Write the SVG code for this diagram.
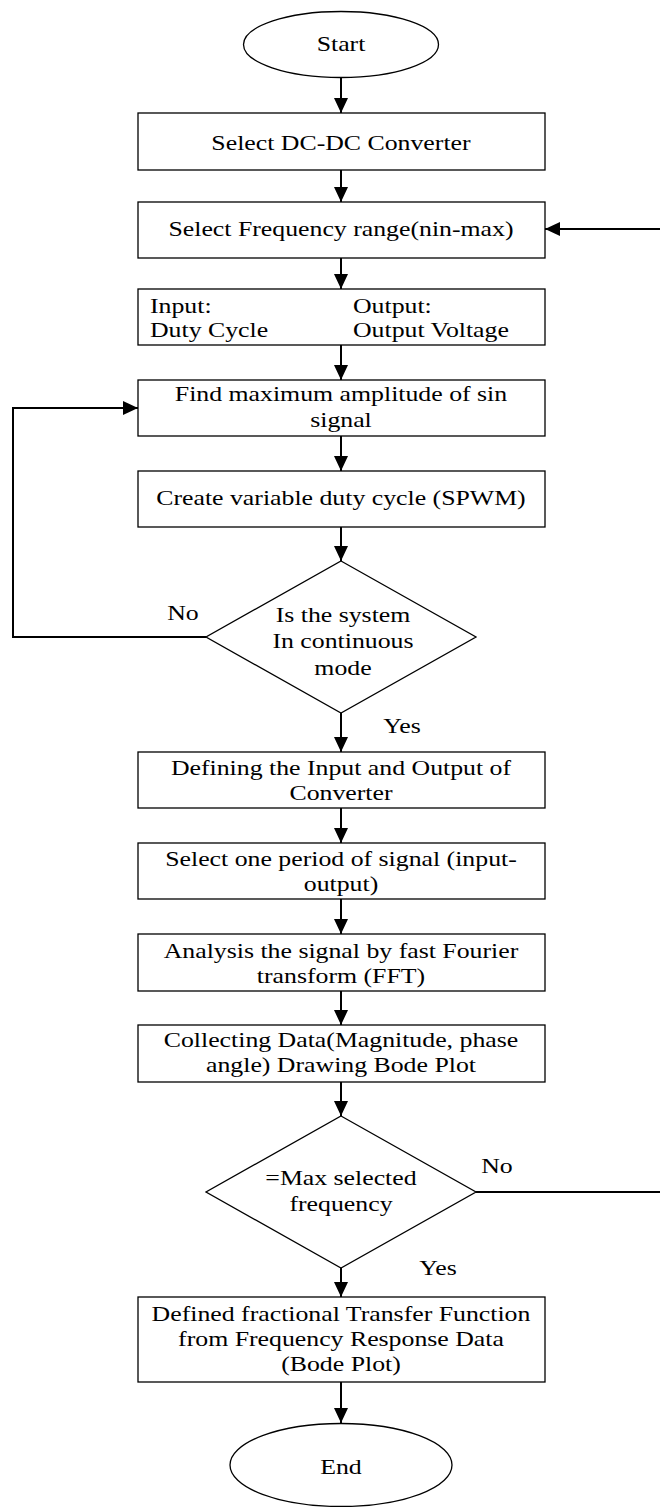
<svg xmlns="http://www.w3.org/2000/svg" width="660" height="1507" viewBox="0 0 660 1507">
<style>
  .shape { fill: #ffffff; stroke: #000000; stroke-width: 1.3; }
  .conn { fill: none; stroke: #000000; stroke-width: 2; }
  text { font-family: "Liberation Serif", "Times New Roman", serif; font-size: 21.5px; fill: #000000; }
  .c { text-anchor: middle; }
  .l { text-anchor: start; }
</style>
<defs>
  <marker id="arrow" markerUnits="userSpaceOnUse" markerWidth="16" markerHeight="14" refX="15" refY="7" orient="auto">
    <path d="M0,0 L15,7 L0,14 Z" fill="#000000"/>
  </marker>
</defs>
<rect width="660" height="1507" fill="#ffffff"/>

<g id="connectors">
  <line class="conn" x1="341" y1="77" x2="341" y2="113" marker-end="url(#arrow)"/>
  <line class="conn" x1="341" y1="170" x2="341" y2="202" marker-end="url(#arrow)"/>
  <line class="conn" x1="341" y1="258" x2="341" y2="289" marker-end="url(#arrow)"/>
  <line class="conn" x1="341" y1="345" x2="341" y2="380" marker-end="url(#arrow)"/>
  <line class="conn" x1="341" y1="436" x2="341" y2="471" marker-end="url(#arrow)"/>
  <line class="conn" x1="341" y1="527" x2="341" y2="561" marker-end="url(#arrow)"/>
  <line class="conn" x1="341" y1="713" x2="341" y2="752" marker-end="url(#arrow)"/>
  <line class="conn" x1="341" y1="808" x2="341" y2="843" marker-end="url(#arrow)"/>
  <line class="conn" x1="341" y1="899" x2="341" y2="934" marker-end="url(#arrow)"/>
  <line class="conn" x1="341" y1="991" x2="341" y2="1025" marker-end="url(#arrow)"/>
  <line class="conn" x1="341" y1="1082" x2="341" y2="1116" marker-end="url(#arrow)"/>
  <line class="conn" x1="341" y1="1268" x2="341" y2="1297" marker-end="url(#arrow)"/>
  <line class="conn" x1="341" y1="1382" x2="341" y2="1423" marker-end="url(#arrow)"/>
  <path class="conn" d="M206,637 H13 V408 H138" marker-end="url(#arrow)"/>
  <path class="conn" d="M476,1192 H662 V229 H545" marker-end="url(#arrow)"/>
  <text class="c" x="183" y="620" transform="matrix(1.2 0 0 1 -36.6 0)">No</text>
  <text class="c" x="402" y="733" transform="matrix(1.2 0 0 1 -80.4 0)">Yes</text>
  <text class="c" x="497" y="1173" transform="matrix(1.2 0 0 1 -99.4 0)">No</text>
  <text class="c" x="438" y="1275" transform="matrix(1.2 0 0 1 -87.6 0)">Yes</text>
</g>

<g id="start">
  <ellipse class="shape" cx="341" cy="44.5" rx="97.5" ry="33"/>
  <text class="c" x="341" y="51" transform="matrix(1.2 0 0 1 -68.2 0)">Start</text>
</g>

<g id="select-converter">
  <rect class="shape" x="138" y="113" width="407" height="57"/>
  <text class="c" x="341" y="150" transform="matrix(1.2 0 0 1 -68.2 0)">Select DC-DC Converter</text>
</g>

<g id="select-frequency">
  <rect class="shape" x="138" y="202" width="407" height="56"/>
  <text class="c" x="341" y="236" transform="matrix(1.2 0 0 1 -68.2 0)">Select Frequency range(nin-max)</text>
</g>

<g id="input-output">
  <rect class="shape" x="138" y="289" width="407" height="56"/>
  <text class="l" x="150" y="313" transform="matrix(1.2 0 0 1 -30 0)">Input:</text>
  <text class="l" x="150" y="337" transform="matrix(1.2 0 0 1 -30 0)">Duty Cycle</text>
  <text class="l" x="353" y="313" transform="matrix(1.2 0 0 1 -70.6 0)">Output:</text>
  <text class="l" x="353" y="337" transform="matrix(1.2 0 0 1 -70.6 0)">Output Voltage</text>
</g>

<g id="find-amplitude">
  <rect class="shape" x="138" y="380" width="407" height="56"/>
  <text class="c" x="341" y="401.5" transform="matrix(1.2 0 0 1 -68.2 0)">Find maximum amplitude of sin</text>
  <text class="c" x="341" y="427.5" transform="matrix(1.2 0 0 1 -68.2 0)">signal</text>
</g>

<g id="create-spwm">
  <rect class="shape" x="138" y="471" width="407" height="56"/>
  <text class="c" x="341" y="505.5" transform="matrix(1.2 0 0 1 -68.2 0)">Create variable duty cycle (SPWM)</text>
</g>

<g id="continuous-mode">
  <polygon class="shape" points="341,561 476,637 341,713 206,637"/>
  <text class="c" x="343" y="622" transform="matrix(1.2 0 0 1 -68.6 0)">Is the system</text>
  <text class="c" x="343" y="648.5" transform="matrix(1.2 0 0 1 -68.6 0)">In continuous</text>
  <text class="c" x="343" y="675" transform="matrix(1.2 0 0 1 -68.6 0)">mode</text>
</g>

<g id="define-io">
  <rect class="shape" x="138" y="752" width="407" height="56"/>
  <text class="c" x="341" y="775.5" transform="matrix(1.2 0 0 1 -68.2 0)">Defining the Input and Output of</text>
  <text class="c" x="341" y="800.5" transform="matrix(1.2 0 0 1 -68.2 0)">Converter</text>
</g>

<g id="select-period">
  <rect class="shape" x="138" y="843" width="407" height="56"/>
  <text class="c" x="341" y="866.5" transform="matrix(1.2 0 0 1 -68.2 0)">Select one period of signal (input-</text>
  <text class="c" x="341" y="891.5" transform="matrix(1.2 0 0 1 -68.2 0)">output)</text>
</g>

<g id="fft">
  <rect class="shape" x="138" y="934" width="407" height="57"/>
  <text class="c" x="341" y="958" transform="matrix(1.2 0 0 1 -68.2 0)">Analysis the signal by fast Fourier</text>
  <text class="c" x="341" y="983" transform="matrix(1.2 0 0 1 -68.2 0)">transform (FFT)</text>
</g>

<g id="collect-data">
  <rect class="shape" x="138" y="1025" width="407" height="57"/>
  <text class="c" x="341" y="1047" transform="matrix(1.2 0 0 1 -68.2 0)">Collecting Data(Magnitude, phase</text>
  <text class="c" x="341" y="1072.5" transform="matrix(1.2 0 0 1 -68.2 0)">angle) Drawing Bode Plot</text>
</g>

<g id="max-frequency">
  <polygon class="shape" points="341,1116 476,1192 341,1268 206,1192"/>
  <text class="c" x="341" y="1185" transform="matrix(1.2 0 0 1 -68.2 0)">=Max selected</text>
  <text class="c" x="341" y="1211.5" transform="matrix(1.2 0 0 1 -68.2 0)">frequency</text>
</g>

<g id="transfer-function">
  <rect class="shape" x="138" y="1297" width="407" height="85"/>
  <text class="c" x="341" y="1321.5" transform="matrix(1.2 0 0 1 -68.2 0)">Defined fractional Transfer Function</text>
  <text class="c" x="341" y="1346.5" transform="matrix(1.2 0 0 1 -68.2 0)">from Frequency Response Data</text>
  <text class="c" x="341" y="1371.5" transform="matrix(1.2 0 0 1 -68.2 0)">(Bode Plot)</text>
</g>

<g id="end">
  <ellipse class="shape" cx="341" cy="1465" rx="111" ry="41.5"/>
  <text class="c" x="341" y="1474" transform="matrix(1.2 0 0 1 -68.2 0)">End</text>
</g>
</svg>
